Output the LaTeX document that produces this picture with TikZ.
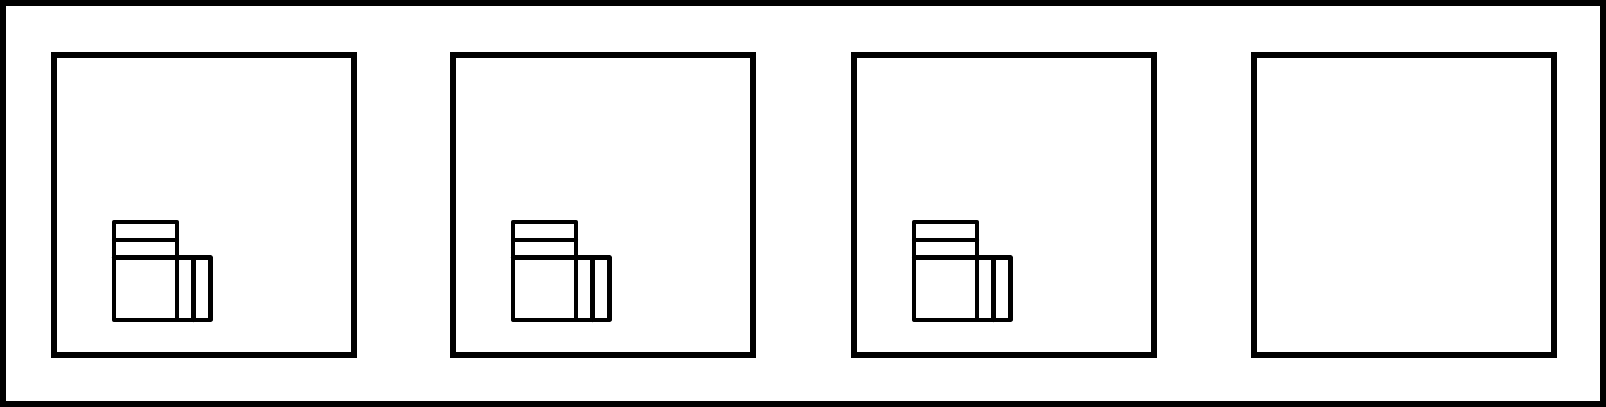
\documentclass[tikz,border=0pt]{standalone}
\begin{document}
\begin{tikzpicture}[x=0.01cm,y=-0.01cm]
  \def\wbox{300}         % width and height of a room
  \def\xa{60}            % left side of the cabinet
  \def\xb{123}           % right side of the tall part
  \def\xc{139.5}         % divider in the low part
  \def\xd{156.5}         % right side of the low part
  \def\ya{167}           % top of the tall part
  \def\yb{185}           % shelf in the tall part
  \def\yc{202.5}         % top of the low part
  \def\yd{265}           % bottom of the cabinet

  \tikzstyle{frame}=[black,line width=0.06cm,line join=miter]
  \tikzstyle{wall}=[black,line width=0.065cm,line join=miter]
  \tikzstyle{unit}=[black,line width=0.042cm,line join=round,line cap=round]
  \def\room{\draw[wall] (0,0) rectangle (\wbox,\wbox)}
  \def\cabinet{
    \draw[unit] (\xa,\ya) rectangle (\xb,\yd);
    \draw[unit] (\xa,\yb) -- (\xb,\yb);
    \draw[unit] (\xa,\yc) -- (\xd,\yc) -- (\xd,\yd) -- (\xb,\yd);
    \draw[unit] (\xc,\yc) -- (\xc,\yd);
  }

  \useasboundingbox (0,0) rectangle (1606,407);

  % OUTER FRAME
  \draw[frame] (3,3) rectangle (1603,404);

  % FIRST ROOM
  \begin{scope}[shift={(54,55)}]
    \room;
    \cabinet
  \end{scope}

  % SECOND ROOM
  \begin{scope}[shift={(453,55)}]
    \room;
    \cabinet
  \end{scope}

  % THIRD ROOM
  \begin{scope}[shift={(854,55)}]
    \room;
    \cabinet
  \end{scope}

  % FOURTH ROOM
  \begin{scope}[shift={(1254,55)}]
    \room;
  \end{scope}
\end{tikzpicture}
\end{document}
